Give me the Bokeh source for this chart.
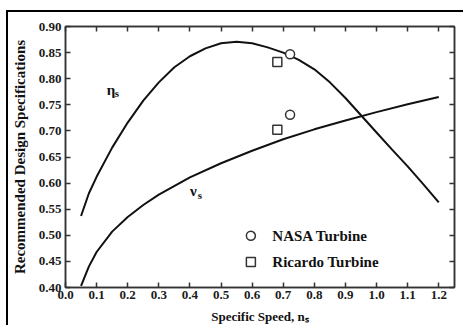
from bokeh.plotting import figure
from bokeh.models import (Range1d, FixedTicker, NumeralTickFormatter, LinearAxis,
                          CustomJSTickFormatter, Label)
from bokeh.embed import file_html
from bokeh.resources import INLINE

# ---- data ----
eta_x = [0.05, 0.075, 0.10, 0.15, 0.20, 0.25, 0.30, 0.35, 0.40, 0.45, 0.50, 0.55,
         0.60, 0.65, 0.70, 0.75, 0.80, 0.85, 0.90, 0.95, 1.00, 1.05, 1.10, 1.15, 1.20]
eta_y = [0.537, 0.580, 0.612, 0.668, 0.716, 0.758, 0.793, 0.822, 0.843, 0.858, 0.868, 0.871,
         0.868, 0.860, 0.850, 0.836, 0.818, 0.793, 0.763, 0.730, 0.697, 0.664, 0.632, 0.598, 0.563]
nu_x = [0.05, 0.075, 0.10, 0.15, 0.20, 0.25, 0.30, 0.40, 0.50, 0.60, 0.70, 0.80, 0.90, 1.00, 1.10, 1.20]
nu_y = [0.403, 0.440, 0.468, 0.507, 0.535, 0.558, 0.578, 0.611, 0.638, 0.662, 0.684, 0.703,
        0.720, 0.736, 0.751, 0.765]
nasa_x = [0.722, 0.722]
nasa_y = [0.847, 0.731]
ricardo_x = [0.681, 0.681]
ricardo_y = [0.832, 0.702]
x_ticks = [0.0, 0.1, 0.2, 0.3, 0.4, 0.5, 0.6, 0.7, 0.8, 0.9, 1.0, 1.1, 1.2]
y_ticks = [0.40, 0.45, 0.50, 0.55, 0.60, 0.65, 0.70, 0.75, 0.80, 0.85, 0.90]

FONT = "Liberation Serif"

p = figure(width=457, height=315, output_backend="svg", toolbar_location=None,
           x_range=Range1d(0.0, 1.2506), y_range=Range1d(0.40, 0.90),
           min_border_left=57, min_border_right=11, min_border_top=14, min_border_bottom=40)
p.styles = {"margin-left": "6px", "margin-top": "10px",
            "border-left": "2px solid black", "border-top": "2px solid black"}
p.background_fill_color = "white"
p.border_fill_color = "white"
p.grid.visible = False
p.outline_line_color = "#333333"
p.outline_line_width = 1.5

def style_axis(ax, labels=True):
    ax.axis_line_color = "#333333"
    ax.axis_line_width = 1.5
    ax.major_tick_in = 5
    ax.major_tick_out = 0
    ax.major_tick_line_color = "#333333"
    ax.major_tick_line_width = 1.5
    ax.minor_tick_line_color = None
    ax.major_label_text_font = FONT
    ax.major_label_text_font_style = "bold"
    ax.major_label_text_font_size = "13px"
    ax.major_label_text_color = "#1a1a1a"
    ax.axis_label_text_font = FONT
    ax.axis_label_text_font_style = "bold"
    ax.axis_label_text_color = "#111111"
    if not labels:
        ax.formatter = CustomJSTickFormatter(code="return ''")

p.xaxis.ticker = FixedTicker(ticks=x_ticks)
p.yaxis.ticker = FixedTicker(ticks=y_ticks)
p.xaxis.formatter = NumeralTickFormatter(format="0.0")
p.yaxis.formatter = NumeralTickFormatter(format="0.00")
style_axis(p.xaxis[0])
style_axis(p.yaxis[0])
p.xaxis.major_label_standoff = 3
p.yaxis.major_label_standoff = 4
p.xaxis.axis_label = "Specific Speed, nₛ"
p.xaxis.axis_label_text_font_size = "13px"
p.xaxis.axis_label_standoff = 7
p.yaxis.axis_label = "Recommended Design Specifications"
p.yaxis.axis_label_text_font_size = "15px"
p.yaxis.axis_label_standoff = 8

top_ax = LinearAxis(ticker=FixedTicker(ticks=x_ticks))
right_ax = LinearAxis(ticker=FixedTicker(ticks=y_ticks))
style_axis(top_ax, labels=False)
style_axis(right_ax, labels=False)
p.add_layout(top_ax, "above")
p.add_layout(right_ax, "right")

# curves
p.line(eta_x, eta_y, line_color="#111111", line_width=2)
p.line(nu_x, nu_y, line_color="#111111", line_width=2)

# data points
p.scatter(nasa_x, nasa_y, marker="circle", size=9, fill_color="white",
          line_color="#333333", line_width=1.5)
p.scatter(ricardo_x, ricardo_y, marker="square", size=9, fill_color="white",
          line_color="#333333", line_width=1.5)

# legend (drawn manually)
p.scatter([0.596], [0.499], marker="circle", size=9, fill_color="white",
          line_color="#333333", line_width=1.5)
p.scatter([0.596], [0.449], marker="square", size=9, fill_color="white",
          line_color="#333333", line_width=1.5)

def lab(x, y, text, size, align="left", baseline="middle"):
    p.add_layout(Label(x=x, y=y, text=text, text_font=FONT, text_font_style="bold",
                       text_font_size=size, text_color="#111111", text_align=align,
                       text_baseline=baseline))

lab(0.665, 0.499, "NASA Turbine", "15px")
lab(0.665, 0.449, "Ricardo Turbine", "15px")

# curve labels
lab(0.133, 0.779, "η", "15px")
lab(0.158, 0.772, "s", "11px")
lab(0.400, 0.585, "ν", "15px")
lab(0.425, 0.578, "s", "11px")

open("out.html", "w").write(file_html(p, INLINE))
